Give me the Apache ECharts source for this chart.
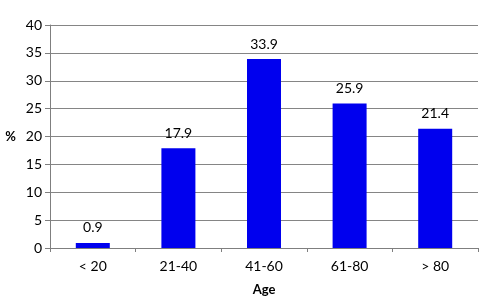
<!DOCTYPE html>
<html><head><meta charset="utf-8">
<script src="https://cdn.jsdelivr.net/npm/echarts@6/dist/echarts.min.js"></script>
<style>html,body{margin:0;padding:0;background:#fff}#c{width:490px;height:305px}</style>
</head><body><div id="c"></div>
<script>
const categories = ["< 20", "21-40", "41-60", "61-80", "> 80"];
const values = [0.9, 17.9, 33.9, 25.9, 21.4];
const yTicks = [0, 5, 10, 15, 20, 25, 30, 35, 40];
const font = "Lato, 'Open Sans', sans-serif";
const chart = echarts.init(document.getElementById('c'));
chart.setOption({
  animation: false,
  grid: {left: 50, right: 12, top: 25, bottom: 57},
  xAxis: {
    type: 'category', data: categories,
    axisLine: {lineStyle: {color: '#7f7f7f'}},
    axisTick: {show: true, length: 4, lineStyle: {color: '#7f7f7f'}},
    axisLabel: {color: '#000', fontSize: 14, fontFamily: font, margin: 11},
    name: 'Age', nameLocation: 'middle', nameGap: 35,
    nameTextStyle: {color: '#000', fontSize: 13, fontWeight: 'bold', fontFamily: font}
  },
  yAxis: {
    type: 'value', min: yTicks[0], max: yTicks[yTicks.length-1], interval: 5,
    axisLine: {show: true, lineStyle: {color: '#7f7f7f'}},
    axisTick: {show: true, length: 5, lineStyle: {color: '#7f7f7f'}},
    splitLine: {lineStyle: {color: '#858585'}},
    axisLabel: {color: '#000', fontSize: 14, fontFamily: font, margin: 8},
    name: '%', nameLocation: 'middle', nameGap: 34, nameRotate: 0,
    nameTextStyle: {color: '#000', fontSize: 13, fontWeight: 'bold', fontFamily: font}
  },
  series: [{
    type: 'bar', data: values, barWidth: 34,
    itemStyle: {color: '#0000ee'},
    label: {show: true, position: 'top', distance: 8, color: '#000', fontSize: 14, fontFamily: font}
  }]
});
</script></body></html>
